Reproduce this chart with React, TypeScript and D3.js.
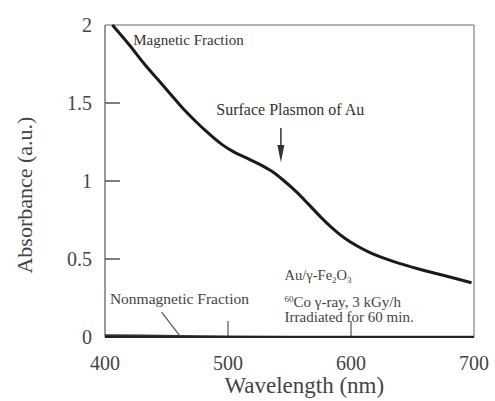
import React from 'react';
import * as d3 from 'd3';

// magnetic fraction spectrum
const magWavelength = [406, 420, 432, 443, 454, 464, 474, 485, 495, 505, 515, 525, 535, 545, 555, 565, 575, 585, 595, 605, 615, 625, 640, 655, 670, 685, 698];
const magAbsorbance = [2.0, 1.87, 1.75, 1.65, 1.55, 1.46, 1.38, 1.3, 1.235, 1.185, 1.148, 1.11, 1.065, 1.005, 0.935, 0.855, 0.772, 0.697, 0.633, 0.583, 0.543, 0.51, 0.47, 0.436, 0.405, 0.375, 0.348];

// nonmagnetic fraction, sits on the baseline
const nonWavelength = [400, 430, 460, 500, 550, 600, 650, 700];
const nonAbsorbance = [0.012, 0.01, 0.007, 0.004, 0.002, 0.001, 0.001, 0.001];

const xTicks = [400, 500, 600, 700];
const yTicks = [0, 0.5, 1, 1.5, 2];
const yTickLabels = ['0', '0.5', '1', '1.5', '2'];

const W = 495;
const H = 401;
const margin = { top: 25, right: 21, bottom: 64, left: 105 };
const font = '"Liberation Serif", "Times New Roman", serif';

const App = () => {
  const x = d3.scaleLinear().domain([400, 700]).range([margin.left, W - margin.right]);
  const y = d3.scaleLinear().domain([0, 2]).range([H - margin.bottom, margin.top]);

  const line = d3.line<number>()
    .x((_, i) => x(magWavelength[i]))
    .y(d => y(d))
    .curve(d3.curveMonotoneX);

  const nonLine = d3.line<number>()
    .x((_, i) => x(nonWavelength[i]))
    .y(d => y(d));

  const x0 = x(400), x1 = x(700), y0 = y(0), y1 = y(2);
  const arrowX = x(543);

  return (
    <svg width={W} height={H} style={{ position: 'absolute', left: 0, top: 0, background: '#fff' }} fontFamily={font}>
      {/* frame */}
      <line x1={x0} y1={y1} x2={x1} y2={y1} stroke="#999" strokeWidth={1.5} />
      <line x1={x1} y1={y1} x2={x1} y2={y0} stroke="#999" strokeWidth={1.5} />
      <line x1={x0} y1={y1} x2={x0} y2={y0} stroke="#777" strokeWidth={1.5} />

      {/* y ticks, inward */}
      {yTicks.map((t, i) => (
        <g key={'y' + t}>
          {t > 0 && t < 2 && <line x1={x0} x2={x0 + 15} y1={y(t)} y2={y(t)} stroke="#555" strokeWidth={1.5} />}
          <text x={x0 - 13} y={y(t)} dy="0.35em" textAnchor="end" fontSize={20} fill="#444">{yTickLabels[i]}</text>
        </g>
      ))}

      {/* x ticks, inward */}
      {xTicks.map(t => (
        <g key={'x' + t}>
          {t > 400 && t < 700 && <line x1={x(t)} x2={x(t)} y1={y0} y2={y0 - 16} stroke="#555" strokeWidth={1.2} />}
          <text x={x(t)} y={y0 + 33} textAnchor="middle" fontSize={20} fill="#444">{t}</text>
        </g>
      ))}

      {/* nonmagnetic fraction + baseline */}
      <path d={nonLine(nonAbsorbance) || ''} fill="none" stroke="#333" strokeWidth={2} />
      <line x1={x0} y1={y0} x2={x1} y2={y0} stroke="#222" strokeWidth={2} />

      {/* magnetic fraction */}
      <path d={line(magAbsorbance) || ''} fill="none" stroke="#1a1a1a" strokeWidth={3} />

      {/* annotations */}
      <text x={x(423)} y={y(1.87)} fontSize={15} fill="#333">Magnetic Fraction</text>
      <text x={x(490.5)} y={y(1.42)} fontSize={16} fill="#333">Surface Plasmon of Au</text>
      <line x1={arrowX} x2={arrowX} y1={y(1.34)} y2={y(1.19)} stroke="#333" strokeWidth={1.5} />
      <path d={`M${arrowX - 3.5},${y(1.23)} L${arrowX},${y(1.12)} L${arrowX + 3.5},${y(1.23)} Z`} fill="#333" />

      <text x={x(404)} y={y(0.21)} fontSize={15.5} fill="#444">Nonmagnetic Fraction</text>
      <line x1={x(446)} y1={y(0.16)} x2={x(461)} y2={y(0.005)} stroke="#555" strokeWidth={1.2} />

      <text x={x(546)} y={y(0.365)} fontSize={14.5} fill="#444">Au/γ-Fe<tspan fontSize={9} dy={3}>2</tspan><tspan dy={-3}>O</tspan><tspan fontSize={9} dy={3}>3</tspan></text>
      <text x={x(546)} y={y(0.19)} fontSize={15} fill="#444"><tspan fontSize={9} dy={-5}>60</tspan><tspan dy={5}>Co γ-ray, 3 kGy/h</tspan></text>
      <text x={x(546)} y={y(0.095)} fontSize={15} fill="#444">Irradiated for 60 min.</text>

      {/* axis titles */}
      <text x={x(562)} y={H - 8} textAnchor="middle" fontSize={23} fill="#444">Wavelength (nm)</text>
      <text transform={`translate(32, ${y(0.91)}) rotate(-90)`} textAnchor="middle" fontSize={22} fill="#444">Absorbance (a.u.)</text>
    </svg>
  );
};

export default App;
